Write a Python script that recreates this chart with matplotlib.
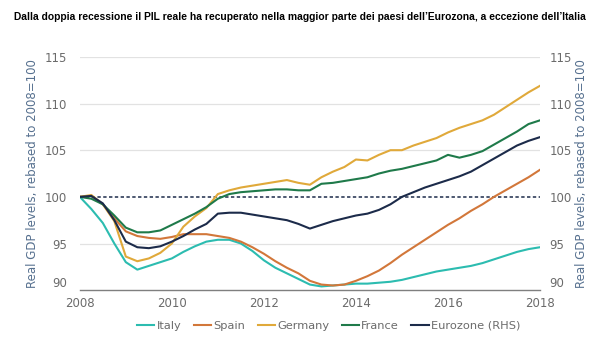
import matplotlib
matplotlib.use("Agg")
import matplotlib.pyplot as plt
import numpy as np

title = "Dalla doppia recessione il PIL reale ha recuperato nella maggior parte dei paesi dell\u2019Eurozona, a eccezione dell\u2019Italia"
ylabel = "Real GDP levels, rebased to 2008=100"

# quarterly, 2008Q1 .. 2018Q1
quarters = np.arange(41) / 4 + 2008

italy = [100, 98.7, 97.2, 95.0, 93.0, 92.2, 92.6, 93.0, 93.4, 94.1, 94.7, 95.2,
         95.4, 95.4, 95.0, 94.2, 93.2, 92.4, 91.8, 91.2, 90.6, 90.4, 90.5, 90.6,
         90.7, 90.7, 90.8, 90.9, 91.1, 91.4, 91.7, 92.0, 92.2, 92.4, 92.6, 92.9,
         93.3, 93.7, 94.1, 94.4, 94.6]
spain = [100, 100.1, 99.2, 97.7, 96.3, 95.8, 95.6, 95.5, 95.7, 96.0, 96.0, 96.0,
         95.8, 95.6, 95.2, 94.6, 93.9, 93.1, 92.4, 91.8, 91.0, 90.6, 90.5, 90.6,
         91.0, 91.5, 92.1, 92.9, 93.8, 94.6, 95.4, 96.2, 97.0, 97.7, 98.5, 99.2,
         100.0, 100.7, 101.4, 102.1, 102.9]
germany = [100, 100.2, 99.2, 97.4, 93.6, 93.1, 93.4, 94.0, 95.0, 96.8, 97.9, 98.8,
           100.3, 100.7, 101.0, 101.2, 101.4, 101.6, 101.8, 101.5, 101.3, 102.1, 102.7, 103.2,
           104.0, 103.9, 104.5, 105.0, 105.0, 105.5, 105.9, 106.3, 106.9, 107.4, 107.8, 108.2,
           108.8, 109.6, 110.4, 111.2, 111.9]
france = [100, 99.8, 99.2, 98.0, 96.7, 96.2, 96.2, 96.4, 97.0, 97.6, 98.2, 98.9,
          99.8, 100.3, 100.5, 100.6, 100.7, 100.8, 100.8, 100.7, 100.7, 101.4, 101.5, 101.7,
          101.9, 102.1, 102.5, 102.8, 103.0, 103.3, 103.6, 103.9, 104.5, 104.2, 104.5, 104.9,
          105.6, 106.3, 107.0, 107.8, 108.2]
eurozone = [100, 100.1, 99.3, 97.5, 95.2, 94.6, 94.5, 94.7, 95.2, 95.8, 96.5, 97.1,
            98.2, 98.3, 98.3, 98.1, 97.9, 97.7, 97.5, 97.1, 96.6, 97.0, 97.4, 97.7,
            98.0, 98.2, 98.6, 99.2, 100.0, 100.5, 101.0, 101.4, 101.8, 102.2, 102.7, 103.4,
            104.1, 104.8, 105.5, 106.0, 106.4]

labels = ["Italy", "Spain", "Germany", "France", "Eurozone (RHS)"]
colors = ["#2cbcb0", "#d2773a", "#e0a93a", "#1f7a4a", "#1c2b4a"]

xticks = [2008, 2010, 2012, 2014, 2016, 2018]
yticks = [90, 95, 100, 105, 110, 115]

gray = "#6b6b6b"

fig = plt.figure(figsize=(6, 3.6), dpi=100)
ax = fig.add_axes([0.133, 0.194, 0.767, 0.648])
ax2 = ax.twinx()

for y in [95, 105, 110, 115]:
    ax.axhline(y, color="#e2e2e2", lw=0.9, zorder=0)
ax.axhline(100, color="#1c2b4a", lw=1.1, ls=(0, (2.2, 1.6)), zorder=1)

lines = []
for data, lab, col in zip([italy, spain, germany, france], labels[:4], colors[:4]):
    l, = ax.plot(quarters, data, color=col, lw=1.5, label=lab, zorder=3)
    lines.append(l)
l, = ax2.plot(quarters, eurozone, color=colors[4], lw=1.5, label=labels[4], zorder=3)
lines.append(l)

for a in (ax, ax2):
    a.set_ylim(90, 115)
    a.set_yticks(yticks)
    a.set_xlim(2008, 2018)
    for s in a.spines.values():
        s.set_visible(False)
    a.tick_params(length=0, colors=gray, labelsize=8.5)

ax.spines["bottom"].set_visible(True)
ax.spines["bottom"].set_color("#7f7f7f")
ax.spines["bottom"].set_linewidth(1.0)

ax.set_xticks(xticks)
ax.set_xticklabels([str(x) for x in xticks])
ax.tick_params(axis="x", pad=5)
ax.tick_params(axis="y", pad=9)
ax2.tick_params(axis="y", pad=7)
# lift the 90 labels slightly, as in the reference
for a in (ax, ax2):
    a.get_yticklabels()[0].set_verticalalignment("bottom")

ax.set_ylabel(ylabel, color="#56708f", fontsize=8.5, labelpad=4)
ax2.set_ylabel(ylabel, color="#56708f", fontsize=8.5, rotation=90, labelpad=2)

fig.text(0.5, 0.952, title, ha="center", va="center", fontsize=7.4,
         fontweight="bold", family=["Liberation Sans Narrow", "Liberation Sans", "DejaVu Sans"])

leg = fig.legend(lines, labels, loc="center", bbox_to_anchor=(0.548, 0.095), ncol=5,
                 frameon=False, fontsize=8.2, handlelength=1.5, handletextpad=0.2,
                 columnspacing=1.1, labelcolor=gray)

fig.savefig("out.png", dpi=100)
